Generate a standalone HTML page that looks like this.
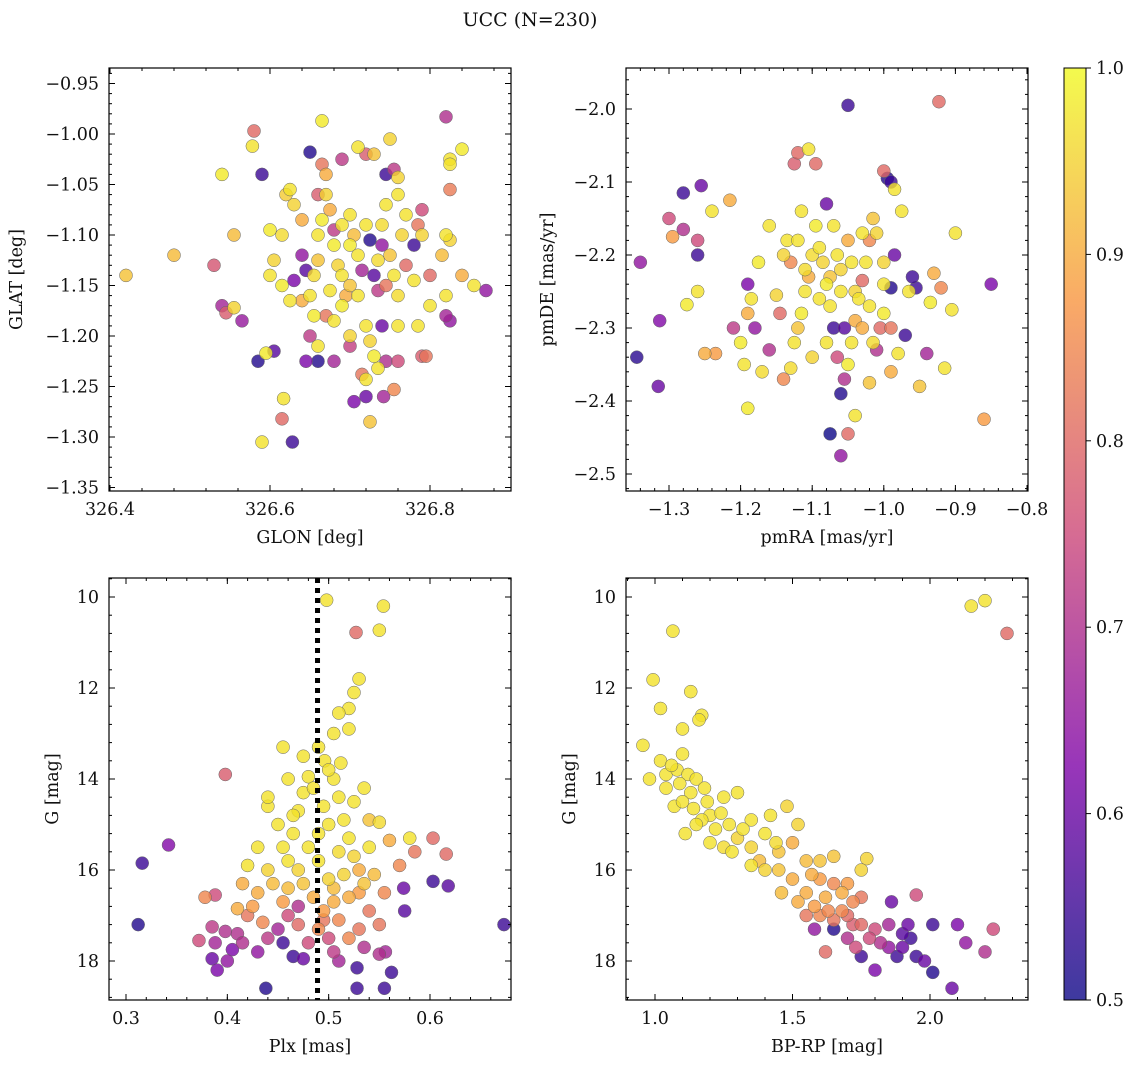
<!DOCTYPE html>
<html><head><meta charset="utf-8"><style>
body{margin:0;background:#fff}
svg text{font-family:"DejaVu Serif","Liberation Serif",serif;fill:#111}
</style></head><body>
<svg id="chart" width="1136" height="1067" viewBox="0 0 1136 1067" xmlns="http://www.w3.org/2000/svg">
<text x="530" y="26" text-anchor="middle" font-size="19">UCC (N=230)</text>
</svg>
<script>
const p1Points=[[326.42,-1.14,.93],[326.48,-1.12,.92],[326.53,-1.13,.77],[326.54,-1.04,.98],[326.54,-1.17,.68],[326.545,-1.177,.78],[326.555,-1.172,.95],[326.565,-1.185,.66],[326.555,-1.10,.92],[326.58,-0.997,.8],[326.578,-1.012,.97],[326.59,-1.04,.55],[326.585,-1.225,.52],[326.595,-1.217,.98],[326.605,-1.215,.58],[326.59,-1.305,.97],[326.628,-1.305,.55],[326.645,-1.225,.62],[326.66,-1.225,.52],[326.615,-1.282,.8],[326.617,-1.262,.97],[326.65,-1.018,.52],[326.665,-1.03,.82],[326.665,-0.987,.98],[326.67,-1.04,.9],[326.69,-1.025,.72],[326.71,-1.013,.97],[326.72,-1.02,.78],[326.73,-1.02,.93],[326.75,-1.005,.95],[326.755,-1.035,.72],[326.745,-1.04,.55],[326.76,-1.043,.95],[326.82,-0.983,.7],[326.825,-1.025,.97],[326.825,-1.03,.97],[326.84,-1.015,.98],[326.825,-1.055,.83],[326.79,-1.075,.75],[326.785,-1.09,.82],[326.77,-1.08,.97],[326.78,-1.11,.55],[326.82,-1.10,.97],[326.825,-1.105,.95],[326.84,-1.14,.9],[326.855,-1.15,.97],[326.87,-1.155,.65],[326.815,-1.12,.92],[326.82,-1.16,.97],[326.82,-1.18,.68],[326.825,-1.185,.65],[326.8,-1.14,.8],[326.785,-1.19,.97],[326.795,-1.22,.82],[326.79,-1.22,.78],[326.76,-1.19,.97],[326.76,-1.225,.75],[326.745,-1.225,.7],[326.735,-1.232,.97],[326.755,-1.253,.85],[326.742,-1.26,.68],[326.72,-1.26,.6],[326.705,-1.265,.62],[326.715,-1.238,.82],[326.72,-1.243,.97],[326.725,-1.285,.93],[326.73,-1.22,.98],[326.725,-1.205,.95],[326.70,-1.20,.95],[326.72,-1.19,.97],[326.74,-1.19,.6],[326.76,-1.16,.96],[326.745,-1.15,.82],[326.70,-1.21,.73],[326.68,-1.225,.68],[326.66,-1.21,.97],[326.65,-1.2,.72],[326.655,-1.18,.98],[326.64,-1.165,.9],[326.625,-1.165,.97],[326.615,-1.15,.98],[326.60,-1.14,.97],[326.605,-1.125,.95],[326.60,-1.095,.98],[326.62,-1.06,.94],[326.625,-1.055,.97],[326.63,-1.07,.95],[326.64,-1.12,.65],[326.645,-1.135,.58],[326.655,-1.14,.96],[326.66,-1.10,.97],[326.665,-1.085,.98],[326.67,-1.06,.95],[326.675,-1.075,.9],[326.68,-1.11,.98],[326.685,-1.13,.95],[326.69,-1.14,.97],[326.695,-1.16,.9],[326.70,-1.08,.97],[326.705,-1.10,.92],[326.71,-1.12,.97],[326.715,-1.135,.68],[326.72,-1.09,.97],[326.725,-1.105,.52],[326.73,-1.14,.58],[326.735,-1.155,.72],[326.74,-1.09,.96],[326.745,-1.07,.97],[326.75,-1.12,.93],[326.755,-1.14,.97],[326.765,-1.1,.95],[326.77,-1.13,.8],[326.78,-1.145,.97],[326.69,-1.17,.98],[326.70,-1.15,.93],[326.675,-1.155,.97],[326.68,-1.185,.97],[326.67,-1.18,.82],[326.66,-1.06,.78],[326.64,-1.085,.9],[326.68,-1.095,.72],[326.70,-1.11,.98],[326.74,-1.11,.65],[326.76,-1.06,.97],[326.63,-1.145,.62],[326.69,-1.09,.97],[326.71,-1.16,.97],[326.66,-1.125,.93],[326.735,-1.125,.96],[326.65,-1.16,.97],[326.79,-1.10,.95],[326.8,-1.17,.97],[326.615,-1.10,.96]];
const p2Points=[[-0.923,-1.99,.8],[-1.05,-1.995,.55],[-1.345,-2.34,.53],[-1.315,-2.38,.6],[-1.34,-2.21,.65],[-1.313,-2.29,.63],[-1.30,-2.15,.75],[-1.295,-2.175,.88],[-1.28,-2.115,.55],[-1.255,-2.105,.6],[-1.26,-2.20,.55],[-1.26,-2.18,.75],[-1.28,-2.165,.7],[-1.275,-2.268,.98],[-1.26,-2.25,.97],[-1.25,-2.335,.9],[-1.235,-2.335,.88],[-1.24,-2.14,.97],[-1.215,-2.125,.9],[-1.19,-2.41,.98],[-1.19,-2.24,.62],[-1.18,-2.3,.65],[-1.16,-2.33,.7],[-1.195,-2.35,.97],[-1.17,-2.36,.96],[-1.2,-2.32,.98],[-1.21,-2.30,.72],[-1.19,-2.28,.9],[-1.185,-2.26,.97],[-1.175,-2.21,.98],[-1.16,-2.16,.97],[-1.15,-2.255,.95],[-1.145,-2.28,.8],[-1.14,-2.37,.85],[-1.125,-2.075,.78],[-1.095,-2.075,.8],[-1.12,-2.06,.8],[-1.105,-2.055,.97],[-1.075,-2.445,.5],[-1.05,-2.445,.8],[-1.06,-2.475,.65],[-1.13,-2.355,.96],[-1.0,-2.085,.8],[-0.995,-2.095,.52],[-0.99,-2.10,.55],[-0.985,-2.11,.97],[-0.975,-2.14,.97],[-0.85,-2.24,.62],[-0.9,-2.17,.97],[-0.86,-2.425,.88],[-0.905,-2.275,.97],[-0.915,-2.355,.97],[-0.92,-2.245,.85],[-0.93,-2.225,.9],[-0.935,-2.265,.98],[-0.94,-2.335,.68],[-0.95,-2.38,.93],[-0.955,-2.245,.55],[-0.96,-2.23,.55],[-0.965,-2.25,.97],[-0.97,-2.31,.55],[-0.98,-2.335,.97],[-0.99,-2.36,.9],[-0.985,-2.2,.6],[-0.99,-2.245,.52],[-1.0,-2.24,.97],[-1.005,-2.3,.8],[-1.01,-2.33,.7],[-1.01,-2.17,.95],[-1.015,-2.15,.93],[-1.02,-2.18,.85],[-1.025,-2.21,.97],[-1.03,-2.235,.8],[-1.035,-2.26,.97],[-1.04,-2.29,.9],[-1.045,-2.32,.97],[-1.05,-2.35,.98],[-1.055,-2.37,.7],[-1.06,-2.39,.52],[-1.065,-2.34,.75],[-1.07,-2.3,.55],[-1.075,-2.27,.97],[-1.08,-2.24,.98],[-1.085,-2.21,.95],[-1.09,-2.19,.97],[-1.095,-2.16,.98],[-1.1,-2.2,.96],[-1.105,-2.23,.9],[-1.11,-2.25,.97],[-1.115,-2.28,.98],[-1.12,-2.3,.93],[-1.125,-2.32,.97],[-1.13,-2.21,.85],[-1.135,-2.18,.97],[-1.14,-2.2,.95],[-1.065,-2.2,.97],[-1.06,-2.22,.95],[-1.07,-2.16,.97],[-1.075,-2.23,.93],[-1.045,-2.21,.97],[-1.04,-2.25,.95],[-1.03,-2.17,.97],[-1.02,-2.27,.97],[-1.015,-2.32,.96],[-1.0,-2.28,.98],[-0.99,-2.3,.82],[-1.055,-2.3,.58],[-1.03,-2.3,.9],[-1.08,-2.32,.97],[-1.1,-2.34,.95],[-1.04,-2.42,.97],[-1.02,-2.375,.93],[-1.115,-2.14,.97],[-1.05,-2.18,.9],[-1.08,-2.13,.6],[-1.09,-2.26,.97],[-1.06,-2.25,.97],[-1.11,-2.22,.96],[-1.0,-2.21,.95],[-1.12,-2.18,.97]];
const p3Points=[[0.498,10.07,.97],[0.554,10.2,.97],[0.55,10.73,.97],[0.527,10.78,.8],[0.53,11.8,.97],[0.525,12.1,.97],[0.52,12.45,.97],[0.51,12.55,.97],[0.52,12.9,.97],[0.505,13.0,.97],[0.49,13.3,.97],[0.455,13.3,.97],[0.475,13.5,.97],[0.496,13.6,.97],[0.512,13.65,.97],[0.316,15.85,.55],[0.342,15.45,.63],[0.312,17.2,.52],[0.673,17.2,.55],[0.398,13.9,.78],[0.603,16.25,.55],[0.618,16.35,.58],[0.603,15.3,.8],[0.616,15.65,.8],[0.372,17.55,.75],[0.378,16.6,.85],[0.388,16.55,.75],[0.385,17.25,.72],[0.388,17.6,.68],[0.39,18.2,.62],[0.385,17.95,.6],[0.4,18.0,.65],[0.398,17.35,.7],[0.41,17.4,.7],[0.405,17.75,.62],[0.438,18.6,.52],[0.528,18.6,.55],[0.555,18.6,.55],[0.528,18.15,.55],[0.562,18.25,.55],[0.575,16.9,.58],[0.574,16.4,.6],[0.55,17.2,.82],[0.55,17.85,.7],[0.556,17.8,.68],[0.57,15.9,.85],[0.585,15.6,.82],[0.58,15.3,.97],[0.56,15.35,.9],[0.54,14.9,.93],[0.55,14.95,.96],[0.47,16.8,.7],[0.45,17.3,.68],[0.455,17.6,.55],[0.465,17.9,.55],[0.475,17.95,.6],[0.48,17.6,.75],[0.49,17.3,.85],[0.5,17.5,.75],[0.505,17.8,.72],[0.51,18.0,.68],[0.52,17.5,.85],[0.53,17.3,.82],[0.535,17.7,.7],[0.54,16.9,.82],[0.425,16.8,.88],[0.43,16.5,.9],[0.42,17.0,.82],[0.435,17.15,.85],[0.44,16.0,.95],[0.445,16.3,.92],[0.455,16.7,.88],[0.46,15.8,.97],[0.465,15.2,.97],[0.47,14.7,.97],[0.475,14.3,.97],[0.48,13.95,.97],[0.485,14.2,.97],[0.495,14.6,.97],[0.5,15.0,.97],[0.505,14.0,.97],[0.51,14.4,.97],[0.515,14.9,.97],[0.52,15.3,.97],[0.525,15.7,.95],[0.53,16.0,.9],[0.535,16.3,.93],[0.52,16.6,.9],[0.5,16.2,.95],[0.49,15.8,.97],[0.48,15.5,.97],[0.47,16.0,.95],[0.46,16.4,.92],[0.45,15.0,.97],[0.44,14.6,.97],[0.43,15.5,.97],[0.42,15.9,.97],[0.415,16.3,.9],[0.41,16.85,.9],[0.44,14.4,.97],[0.46,14.0,.97],[0.485,16.6,.9],[0.495,16.9,.88],[0.505,16.4,.92],[0.515,16.1,.95],[0.54,15.5,.97],[0.545,16.1,.92],[0.555,16.5,.85],[0.495,17.1,.82],[0.46,17.0,.75],[0.44,17.5,.72],[0.415,17.6,.7],[0.43,17.8,.65],[0.47,17.2,.8],[0.51,17.1,.85],[0.53,16.5,.88],[0.525,14.5,.97],[0.535,14.2,.97],[0.5,13.8,.97],[0.465,14.8,.97],[0.49,15.2,.97],[0.51,15.6,.96],[0.475,16.3,.93],[0.455,15.5,.97],[0.505,16.7,.9]];
const p4Points=[[0.956,13.26,.97],[0.993,11.82,.97],[1.02,12.45,.97],[1.065,10.75,.97],[2.15,10.2,.97],[2.2,10.08,.97],[2.28,10.8,.8],[1.13,12.08,.97],[1.17,12.6,.97],[1.16,12.7,.97],[1.1,12.9,.97],[0.98,14.0,.97],[1.02,13.6,.97],[1.04,13.9,.97],[1.07,14.6,.97],[1.11,15.2,.97],[1.1,13.45,.97],[1.08,13.8,.97],[1.12,13.9,.97],[1.15,14.0,.97],[1.18,14.2,.97],[1.13,14.3,.97],[1.1,14.5,.97],[1.14,14.65,.97],[1.2,14.8,.97],[1.24,14.75,.97],[1.17,14.9,.97],[1.25,14.4,.97],[1.3,14.3,.97],[1.27,15.0,.97],[1.22,15.1,.97],[1.3,15.3,.95],[1.25,15.5,.96],[1.35,15.5,.95],[1.4,15.2,.97],[1.38,15.8,.92],[1.45,15.6,.93],[1.5,15.4,.9],[1.52,15.0,.95],[1.48,14.6,.95],[1.42,14.8,.97],[1.55,15.8,.92],[1.45,16.0,.93],[1.5,16.2,.9],[1.55,16.5,.9],[1.6,16.2,.88],[1.58,16.8,.88],[1.62,16.6,.9],[1.65,16.3,.85],[1.68,16.9,.85],[1.7,17.0,.8],[1.65,17.1,.82],[1.6,17.0,.85],[1.72,16.7,.85],[1.75,17.2,.8],[1.8,17.3,.75],[1.77,15.75,.95],[1.75,16.0,.95],[1.78,17.5,.75],[1.82,17.6,.7],[1.85,17.7,.65],[1.86,16.7,.6],[1.95,16.55,.75],[1.9,17.7,.6],[1.93,17.5,.55],[1.95,17.9,.55],[1.98,18.0,.6],[2.01,18.25,.52],[2.08,18.6,.6],[2.01,17.2,.55],[2.1,17.2,.62],[2.13,17.6,.65],[2.2,17.8,.7],[2.23,17.3,.75],[1.88,17.9,.55],[1.75,17.9,.55],[1.8,18.2,.62],[1.58,17.3,.65],[1.65,17.3,.52],[1.7,17.5,.7],[1.73,17.7,.75],[1.62,17.8,.8],[1.92,17.2,.6],[1.55,17.0,.82],[1.4,16.0,.95],[1.35,15.9,.97],[1.6,15.8,.93],[1.65,15.7,.93],[1.7,16.3,.88],[1.52,16.7,.9],[1.46,16.5,.92],[1.68,16.5,.9],[1.75,16.6,.82],[1.85,17.2,.68],[1.9,17.4,.58],[1.04,14.2,.97],[1.15,15.0,.97],[1.28,15.6,.97],[1.35,14.9,.97],[1.2,15.4,.97],[1.06,13.7,.97],[1.09,14.1,.97],[1.19,14.5,.97],[1.32,15.1,.97],[1.44,15.4,.96],[1.57,16.1,.9],[1.63,16.9,.85],[1.72,17.2,.78]];
const p1XTicks=[326.4,326.6,326.8], p1YTicks=[-0.95,-1.00,-1.05,-1.10,-1.15,-1.20,-1.25,-1.30,-1.35];
const p2XTicks=[-1.3,-1.2,-1.1,-1.0,-0.9,-0.8], p2YTicks=[-2.0,-2.1,-2.2,-2.3,-2.4,-2.5];
const p3XTicks=[0.3,0.4,0.5,0.6], gYTicks=[10,12,14,16,18];
const p4XTicks=[1.0,1.5,2.0];
const cbTicks=[0.5,0.6,0.7,0.8,0.9,1.0];
const plxLine=0.489;

const NS='http://www.w3.org/2000/svg';
const svg=document.getElementById('chart');
function el(tag,attrs,parent){const e=document.createElementNS(NS,tag);for(const k in attrs)e.setAttribute(k,attrs[k]);(parent||svg).appendChild(e);return e;}
function lin(d0,r0,d1,r1){return v=>r0+(v-d0)*(r1-r0)/(d1-d0);}
const stops=[[13,8,135],[126,3,168],[204,71,120],[248,149,64],[240,249,33]];
function plasma(p){let t=Math.max(0,Math.min(1,(p-0.5)/0.5))*4;let i=Math.min(3,Math.floor(t)),f=t-i;const a=stops[i],b=stops[i+1];return 'rgb('+a.map((c,k)=>Math.round(c+(b[k]-c)*f)).join(',')+')';}

const FS=17.5;
const panels=[
 {name:'glon-glat',box:[109,68,511,491],sx:lin(326.4,110,326.8,430),sy:lin(-1.0,134,-1.3,437),pts:p1Points,xt:p1XTicks,yt:p1YTicks,xf:v=>v.toFixed(1),yf:v=>'\u2212'+Math.abs(v).toFixed(2),xminor:0.04,yminor:0.01,xl:'GLON [deg]',yl:'GLAT [deg]',ylx:22},
 {name:'pmra-pmde',box:[626,68,1028,491],sx:lin(-1.3,669,-0.8,1027),sy:lin(-2.0,109,-2.5,474),pts:p2Points,xt:p2XTicks,yt:p2YTicks,xf:v=>'\u2212'+Math.abs(v).toFixed(1),yf:v=>'\u2212'+Math.abs(v).toFixed(1),xminor:0.02,yminor:0.02,xl:'pmRA [mas/yr]',yl:'pmDE [mas/yr]',ylx:553},
 {name:'plx-g',box:[109,578,511,1000],sx:lin(0.3,126,0.6,430),sy:lin(10,597,18,961),pts:p3Points,xt:p3XTicks,yt:gYTicks,xf:v=>v.toFixed(1),yf:v=>String(v),xminor:0.02,yminor:0.4,xl:'Plx [mas]',yl:'G [mag]',ylx:58},
 {name:'bprp-g',box:[626,578,1028,1000],sx:lin(1.0,655,2.0,930),sy:lin(10,597,18,961),pts:p4Points,xt:p4XTicks,yt:gYTicks,xf:v=>v.toFixed(1),yf:v=>String(v),xminor:0.1,yminor:0.4,xl:'BP-RP [mag]',yl:'G [mag]',ylx:575}
];

panels.forEach(P=>{
 const [L,T,R,B]=P.box;
 const g=el('g',{});
 
 
 const clipId='clip-'+P.name;
 const cp=el('clipPath',{id:clipId},g);el('rect',{x:L,y:T,width:R-L,height:B-T},cp);
 const pg=el('g',{'clip-path':'url(#'+clipId+')'},g);
 
 
 [...P.pts].sort((a,b)=>a[2]-b[2]).forEach(d=>{
  const c=el('circle',{cx:P.sx(d[0]),cy:P.sy(d[1]),r:6.5,fill:plasma(d[2]),'fill-opacity':0.8,stroke:'#666','stroke-width':0.5},pg);
  
  
 });
 if(P.name==='plx-g'){
  const ln=el('line',{x1:P.sx(plxLine),x2:P.sx(plxLine),y1:T,y2:B,stroke:'#000','stroke-width':5,'stroke-dasharray':'5,5'},g);
  
  
 }
 el('rect',{x:L,y:T,width:R-L,height:B-T,fill:'none',stroke:'#000','stroke-width':1.2},g);
 const xa=(x)=>x>=L-0.5&&x<=R+0.5, ya=(y)=>y>=T-0.5&&y<=B+0.5;
 const xs=P.xt[0]-P.xminor*60, ys=P.yt[0]-P.yminor*80;
 for(let i=0;i<200;i++){const v=xs+i*P.xminor;const x=P.sx(v);if(xa(x)){el('line',{x1:x,x2:x,y1:B,y2:B-3,stroke:'#000'},g);el('line',{x1:x,x2:x,y1:T,y2:T+3,stroke:'#000'},g);}}
 for(let i=0;i<300;i++){const v=ys+i*P.yminor;const y=P.sy(v);if(ya(y)){el('line',{x1:L,x2:L+3,y1:y,y2:y,stroke:'#000'},g);el('line',{x1:R,x2:R-3,y1:y,y2:y,stroke:'#000'},g);}}
 P.xt.forEach(v=>{const x=P.sx(v);if(!xa(x)&&Math.abs(x-L)>20)return;
  if(xa(x)){el('line',{x1:x,x2:x,y1:B,y2:B-6,stroke:'#000'},g);el('line',{x1:x,x2:x,y1:T,y2:T+6,stroke:'#000'},g);}
  const t=el('text',{x:x,y:B+24,'text-anchor':'middle','font-size':FS},g);t.textContent=P.xf(v);
  });
 P.yt.forEach(v=>{const y=P.sy(v);if(!ya(y))return;
  el('line',{x1:L,x2:L+6,y1:y,y2:y,stroke:'#000'},g);el('line',{x1:R,x2:R-6,y1:y,y2:y,stroke:'#000'},g);
  const t=el('text',{x:L-10,y:y+6,'text-anchor':'end','font-size':FS},g);t.textContent=P.yf(v);
  });
 const xl=el('text',{x:(L+R)/2,y:B+52,'text-anchor':'middle','font-size':FS},g);xl.textContent=P.xl;
 
 const cy=(T+B)/2;
 const yl=el('text',{x:P.ylx,y:cy,'text-anchor':'middle','font-size':FS,transform:'rotate(-90 '+P.ylx+' '+cy+')'},g);yl.textContent=P.yl;
 
});

const cb=el('g',{});


const defs=el('defs',{},cb);
const grad=el('linearGradient',{id:'cbg',x1:0,y1:1,x2:0,y2:0},defs);
for(let i=0;i<=20;i++){el('stop',{offset:i/20,'stop-color':plasma(0.5+i/40),'stop-opacity':0.8},grad);}
el('rect',{x:1064,y:68,width:22,height:932,fill:'url(#cbg)',stroke:'#000','stroke-width':1},cb);
const cs=lin(0.5,1000,1.0,68);
cbTicks.forEach(v=>{const y=cs(v);el('line',{x1:1086,x2:1091,y1:y,y2:y,stroke:'#000'},cb);
 const t=el('text',{x:1096,y:y+6,'font-size':FS},cb);t.textContent=v.toFixed(1);
 });
</script>
</body></html>
